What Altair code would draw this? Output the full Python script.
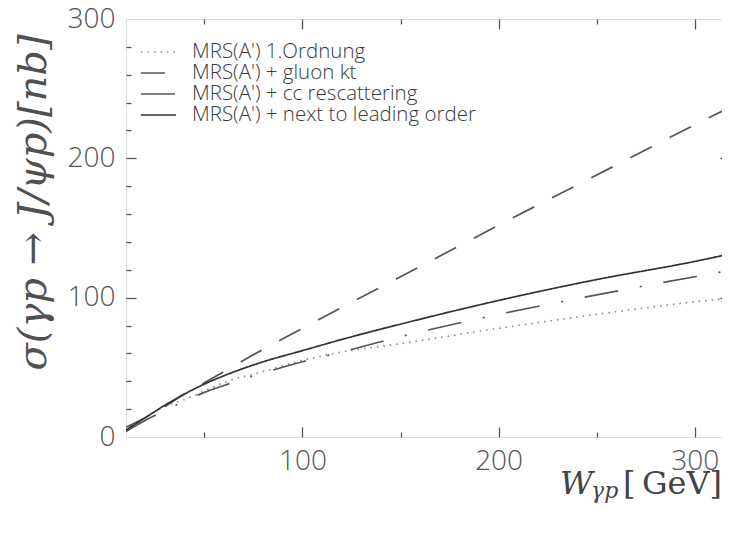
import altair as alt
import pandas as pd

# Photon-proton energy W (GeV) and cross sections (nb)
W = [10, 20, 30, 40, 50, 60, 80, 100, 120, 150, 200, 250, 300, 320]
lo_order = [5, 14, 22, 27, 33, 39, 47, 55, 61, 67, 78, 88, 97, 100]
gluon_kt = [7, 14, 22, 31, 39, 47, 63, 78, 93, 115, 152, 188, 224, 238]
cc_resc = [4, 12, 19, 26, 32, 37, 46, 54, 61, 72, 88, 102, 115, 120]
nlo = [5, 14, 23, 31, 38, 44, 54, 62, 70, 81, 98, 113, 126, 132]

names = ["MRS(A') 1.Ordnung", "MRS(A') + gluon kt",
         "MRS(A') + cc rescattering", "MRS(A') + next to leading order"]
series_values = [lo_order, gluon_kt, cc_resc, nlo]

x_labels = [100, 200, 300]
y_labels = [0, 100, 200, 300]
x_ticks = [50, 100, 150, 200, 250, 300]
y_ticks = [20, 40, 60, 80, 100, 120, 140, 160, 180, 200, 220, 240, 260, 280]

rows = []
for name, vals in zip(names, series_values):
    for w, s in zip(W, vals):
        rows.append({"series": name, "W": w, "sigma": s})
df = pd.DataFrame(rows)

PW, PH = 604, 418
LABEL_FONT = "Open Sans"
xscale = alt.Scale(domain=[10, 318], nice=False, zero=False)
yscale = alt.Scale(domain=[0, 300], nice=False, zero=False)

colors = ["#8c8c8c", "#555555", "#555555", "#333333"]
dashes = [[1.5, 5], [24, 20], [34, 22, 2, 22], [1, 0]]

leg = alt.Legend(orient="none", legendX=14, legendY=24, title=None,
                 symbolType="stroke", symbolSize=1225, symbolStrokeWidth=1.5,
                 clipHeight=18, rowPadding=0, padding=0,
                 labelFont=LABEL_FONT, labelFontSize=20.5, labelFontWeight=300,
                 labelColor="#3a3a3a", labelOffset=15, labelLimit=600)

lines = alt.Chart(df).mark_line(strokeWidth=1.7, clip=True, interpolate="monotone").encode(
    x=alt.X("W:Q", scale=xscale,
            axis=alt.Axis(values=x_labels, ticks=False, domain=False, grid=False,
                          labelFont=LABEL_FONT, labelFontSize=28, labelFontWeight=300,
                          labelColor="#555", labelPadding=10, labelFlush=False, title=None)),
    y=alt.Y("sigma:Q", scale=yscale,
            axis=alt.Axis(values=y_labels, ticks=False, domain=False, grid=False,
                          labelFont=LABEL_FONT, labelFontSize=28, labelFontWeight=300,
                          labelColor="#555", labelPadding=11, labelFlush=False,
                          title="σ(γp → J/ψp)[nb]", titleFont="DejaVu Serif",
                          titleFontStyle="italic", titleFontWeight="normal",
                          titleFontSize=40, titleColor="#505050", titleX=-93, titleY=183,
                          titleAngle=270, titleAlign="center", titleBaseline="middle")),
    color=alt.Color("series:N", scale=alt.Scale(domain=names, range=colors), sort=names, legend=leg),
    strokeDash=alt.StrokeDash("series:N", scale=alt.Scale(domain=names, range=dashes), sort=names, legend=leg),
    detail="series:N",
)

tick_size = {"condition": {"test": "datum.value % 100 === 0", "value": 10}, "value": 5}


def tick_layer(xorient, yorient):
    return alt.Chart(df).mark_line(opacity=0).encode(
        x=alt.X("W:Q", scale=xscale,
                axis=alt.Axis(orient=xorient, offset=-PH, values=x_ticks, labels=False,
                              domain=False, grid=False, tickSize=tick_size,
                              tickColor="#555", tickWidth=1.3, title=None)),
        y=alt.Y("sigma:Q", scale=yscale,
                axis=alt.Axis(orient=yorient, offset=-PW, values=y_ticks, labels=False,
                              domain=False, grid=False, tickSize=tick_size,
                              tickColor="#555", tickWidth=1.3, title=None)),
        detail="series:N",
    )


ticks_in_a = tick_layer("top", "right")     # bottom edge & left edge, pointing inward
ticks_in_b = tick_layer("bottom", "left")   # top edge & right edge, pointing inward

one = pd.DataFrame({"t": [0]})
t_w = alt.Chart(one).mark_text(text="W", font="DejaVu Serif", fontStyle="italic",
                               fontSize=32, align="left", baseline="alphabetic",
                               color="#444").encode(x=alt.value(434), y=alt.value(475))
t_sub = alt.Chart(one).mark_text(text="γp", font="DejaVu Serif", fontStyle="italic",
                                 fontSize=22, align="left", baseline="alphabetic",
                                 color="#444").encode(x=alt.value(465), y=alt.value(479))
t_unit = alt.Chart(one).mark_text(text="[\u2009GeV]", font="DejaVu Serif",
                                  fontSize=32, align="right", baseline="alphabetic",
                                  color="#444").encode(x=alt.value(596), y=alt.value(475))

chart = alt.layer(lines, ticks_in_a, ticks_in_b, t_w, t_sub, t_unit).resolve_scale(
    x="independent", y="independent"
).properties(
    width=PW, height=PH,
    autosize=alt.AutoSizeParams(type="none"),
    padding={"left": 118, "top": 11, "right": -8, "bottom": 80},
).configure_view(
    stroke="#555", strokeWidth=1.5
).configure(background="white")

chart.save("out.html", embed_options={"renderer": "svg", "actions": False})
